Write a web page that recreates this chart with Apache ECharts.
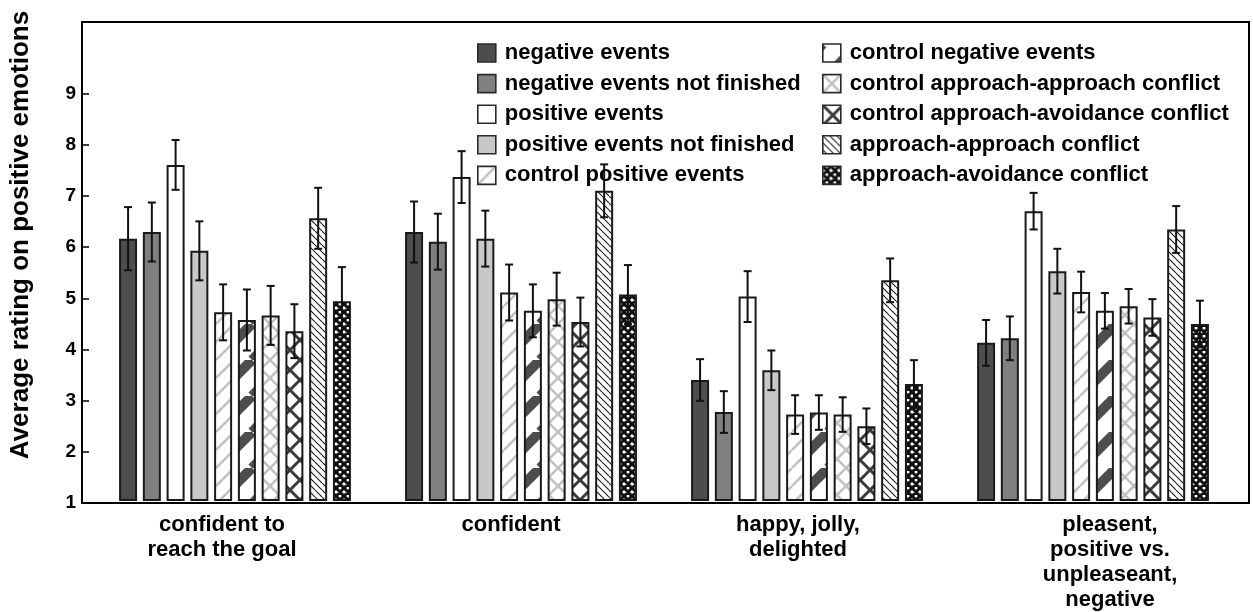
<!DOCTYPE html>
<html>
<head>
<meta charset="utf-8">
<script src="https://cdn.jsdelivr.net/npm/echarts@6/dist/echarts.min.js"></script>
<style>
  html, body { margin: 0; padding: 0; background: #fff; }
  #chart { width: 1253px; height: 612px; }
</style>
</head>
<body>
<div id="chart"></div>
<script>
// Emotion rating categories (x axis)
const categories = [
  'confident to\nreach the goal',
  'confident',
  'happy, jolly,\ndelighted',
  'pleasent,\npositive vs.\nunpleaseant,\nnegative'
];

// Condition names (legend order)
const seriesNames = [
  'negative events',
  'negative events not finished',
  'positive events',
  'positive events not finished',
  'control positive events',
  'control negative events',
  'control approach-approach conflict',
  'control approach-avoidance conflict',
  'approach-approach conflict',
  'approach-avoidance conflict'
];

// Mean ratings per condition, one value per category
const negativeEvents            = [6.14, 6.27, 3.36, 4.09];
const negativeEventsNotFinished = [6.27, 6.08, 2.73, 4.18];
const positiveEvents            = [7.59, 7.35, 5.00, 6.68];
const positiveEventsNotFinished = [5.90, 6.14, 3.55, 5.50];
const controlPositiveEvents     = [4.69, 5.08, 2.68, 5.09];
const controlNegativeEvents     = [4.54, 4.72, 2.72, 4.72];
const controlApproachApproach   = [4.63, 4.95, 2.68, 4.81];
const controlApproachAvoidance  = [4.32, 4.50, 2.45, 4.59];
const approachApproach          = [6.54, 7.08, 5.32, 6.32];
const approachAvoidance         = [4.91, 5.04, 3.28, 4.46];

// Standard errors (half-length of each error bar)
const negativeEventsErr            = [0.62, 0.60, 0.41, 0.45];
const negativeEventsNotFinishedErr = [0.58, 0.55, 0.41, 0.43];
const positiveEventsErr            = [0.49, 0.51, 0.50, 0.36];
const positiveEventsNotFinishedErr = [0.58, 0.55, 0.39, 0.44];
const controlPositiveEventsErr     = [0.55, 0.55, 0.38, 0.40];
const controlNegativeEventsErr     = [0.60, 0.52, 0.34, 0.35];
const controlApproachApproachErr   = [0.58, 0.52, 0.34, 0.34];
const controlApproachAvoidanceErr  = [0.53, 0.48, 0.35, 0.36];
const approachApproachErr          = [0.60, 0.52, 0.43, 0.46];
const approachAvoidanceErr         = [0.67, 0.58, 0.47, 0.46];

// Y axis tick labels
const yTicks = [1, 2, 3, 4, 5, 6, 7, 8, 9];

const means = [
  negativeEvents, negativeEventsNotFinished, positiveEvents, positiveEventsNotFinished,
  controlPositiveEvents, controlNegativeEvents, controlApproachApproach,
  controlApproachAvoidance, approachApproach, approachAvoidance
];
const errors = [
  negativeEventsErr, negativeEventsNotFinishedErr, positiveEventsErr, positiveEventsNotFinishedErr,
  controlPositiveEventsErr, controlNegativeEventsErr, controlApproachApproachErr,
  controlApproachAvoidanceErr, approachApproachErr, approachAvoidanceErr
];

// ---- fill patterns -------------------------------------------------------
function tile(size, bg, draw) {
  const c = document.createElement('canvas');
  c.width = c.height = size;
  const g = c.getContext('2d');
  g.fillStyle = bg;
  g.fillRect(0, 0, size, size);
  draw(g, size);
  return { image: c, repeat: 'repeat' };
}
function forward(g, s) {      // "/" lines
  for (let k = -1; k <= 1; k++) { g.moveTo(k * s, s); g.lineTo(k * s + s, 0); }
}
function backward(g, s) {     // "\" lines
  for (let k = -1; k <= 1; k++) { g.moveTo(k * s, 0); g.lineTo(k * s + s, s); }
}
function hatch(size, color, width, dirs) {
  return tile(size, '#ffffff', (g, s) => {
    g.strokeStyle = color;
    g.lineWidth = width;
    g.beginPath();
    dirs.forEach(d => d(g, s));
    g.stroke();
  });
}

const fills = [
  '#4d4d4d',
  '#808080',
  '#ffffff',
  '#c8c8c8',
  hatch(18, '#c2c2c2', 2.6, [forward]),
  hatch(36, '#4d4d4d', 10, [forward]),
  hatch(18, '#c2c2c2', 2.6, [forward, backward]),
  hatch(20, '#3a3a3a', 3, [forward, backward]),
  hatch(7, '#1a1a1a', 1.1, [backward]),
  hatch(8, '#111111', 3, [forward, backward])
];

// ---- layout of grouped bars ------------------------------------------------
const barWidth = 18;
const barGapRatio = 0.32;
const pitch = barWidth * (1 + barGapRatio);

const barSeries = seriesNames.map((name, i) => ({
  name: name,
  type: 'bar',
  xAxisIndex: 0,
  yAxisIndex: 0,
  data: means[i],
  barWidth: barWidth,
  barGap: (barGapRatio * 100) + '%',
  itemStyle: { color: fills[i], borderColor: '#1a1a1a', borderWidth: 2 },
  emphasis: { disabled: true },
  silent: true,
  z: 2
}));

// Error bar data: [category, low, high, series index]
const errData = [];
means.forEach((vals, s) => {
  vals.forEach((v, c) => {
    errData.push([c, v - errors[s][c], v + errors[s][c], s]);
  });
});

const errorSeries = {
  type: 'custom',
  xAxisIndex: 0,
  yAxisIndex: 0,
  data: errData,
  encode: { x: 0, y: [1, 2] },
  silent: true,
  z: 5,
  renderItem: function (params, api) {
    const c = api.value(0);
    const lo = api.coord([c, api.value(1)]);
    const hi = api.coord([c, api.value(2)]);
    const x = lo[0] + (api.value(3) - 4.5) * pitch;
    const cap = 4;
    const style = { stroke: '#111', lineWidth: 2 };
    return {
      type: 'group',
      children: [
        { type: 'line', shape: { x1: x, y1: lo[1], x2: x, y2: hi[1] }, style: style },
        { type: 'line', shape: { x1: x - cap, y1: hi[1], x2: x + cap, y2: hi[1] }, style: style },
        { type: 'line', shape: { x1: x - cap, y1: lo[1], x2: x + cap, y2: lo[1] }, style: style }
      ]
    };
  }
};

const legendCommon = {
  orient: 'vertical',
  top: 42,
  padding: 0,
  itemWidth: 18,
  itemHeight: 18,
  itemGap: 8.6,
  icon: 'rect',
  selectedMode: false,
  itemStyle: { borderColor: '#2a2a2a', borderWidth: 1.6 },
  textStyle: {
    fontFamily: 'Liberation Sans, Arial, sans-serif',
    fontWeight: 'bold',
    fontSize: 22,
    lineHeight: 18,
    color: '#000',
    padding: [0, 0, 0, 4]
  }
};

const labelFont = 'Liberation Sans, Arial, sans-serif';

const option = {
  animation: false,
  backgroundColor: '#fff',
  legend: [
    Object.assign({}, legendCommon, { left: 477, data: seriesNames.slice(0, 5) }),
    Object.assign({}, legendCommon, { left: 822, data: seriesNames.slice(5) })
  ],
  grid: [
    { left: 92, right: 17, top: 22, bottom: 109, show: false },
    { left: 81, right: 4, top: 22, bottom: 109, show: true, borderColor: '#000', borderWidth: 2, backgroundColor: 'transparent' }
  ],
  xAxis: [
    {
      type: 'category',
      gridIndex: 0,
      data: [
        { value: categories[0], textStyle: { padding: [0, 26, 0, 0] } },
        { value: categories[1], textStyle: { padding: [0, 20, 0, 0] } },
        { value: categories[2], textStyle: { padding: [0, 18, 0, 0] } },
        { value: categories[3], textStyle: { padding: [0, 0, 0, 34] } }
      ],
      axisLine: { show: false },
      axisTick: { show: false },
      axisLabel: {
        interval: 0,
        margin: 12,
        fontFamily: labelFont,
        fontWeight: 'bold',
        fontSize: 22,
        lineHeight: 25,
        color: '#000'
      }
    },
    { type: 'value', gridIndex: 1, show: false }
  ],
  yAxis: [
    { type: 'value', gridIndex: 0, min: 1, max: 10.4, interval: 1, show: false },
    {
      type: 'value',
      gridIndex: 1,
      min: 1,
      max: 10.4,
      interval: 1,
      name: 'Average rating on positive emotions',
      nameLocation: 'middle',
      nameGap: 48,
      nameTextStyle: {
        fontFamily: labelFont,
        fontWeight: 'bold',
        fontSize: 26,
        color: '#000',
        padding: [0, 0, 0, 55]
      },
      axisLine: { show: true, lineStyle: { color: '#000', width: 2 } },
      axisTick: { show: true, inside: true, length: 7, customValues: yTicks, lineStyle: { color: '#000', width: 1.5 } },
      axisLabel: {
        customValues: yTicks,
        margin: 6,
        fontFamily: labelFont,
        fontWeight: 'bold',
        fontSize: 19,
        color: '#000'
      },
      splitLine: { show: false }
    }
  ],
  series: barSeries.concat([errorSeries])
};

const chart = echarts.init(document.getElementById('chart'), null, { renderer: 'canvas' });
chart.setOption(option);
</script>
</body>
</html>
